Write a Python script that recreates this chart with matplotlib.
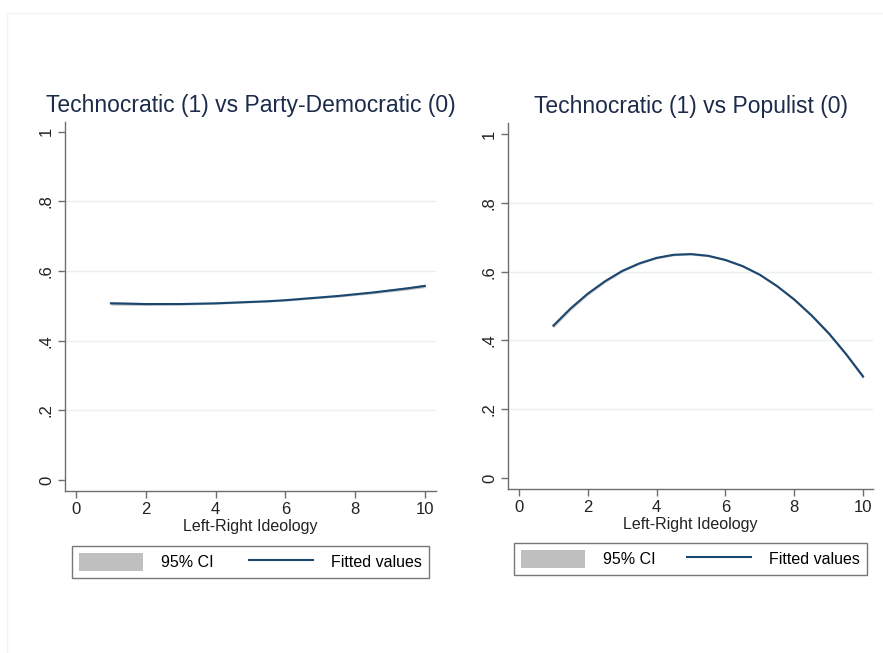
import matplotlib
matplotlib.use("Agg")
from matplotlib import pyplot as plt
from matplotlib.patches import Rectangle
import numpy as np

plt.rcParams["font.family"] = ["Liberation Sans", "DejaVu Sans"]

# Left-right ideology grid where fitted values were evaluated
ideology = [1, 1.5, 2, 2.5, 3, 3.5, 4, 4.5, 5, 5.5,
            6, 6.5, 7, 7.5, 8, 8.5, 9, 9.5, 10]

# Technocratic vs Party-Democratic
fit_pd = [0.507, 0.506, 0.505, 0.505, 0.505, 0.506, 0.507, 0.509, 0.511, 0.513,
          0.516, 0.520, 0.524, 0.528, 0.533, 0.538, 0.544, 0.550, 0.557]
ci_pd = [0.005, 0.0045, 0.004, 0.0035, 0.003, 0.0028, 0.0025, 0.0024, 0.0023, 0.0023,
         0.0024, 0.0025, 0.0027, 0.003, 0.0033, 0.0036, 0.004, 0.0045, 0.005]

# Technocratic vs Populist
fit_pop = [0.443, 0.493, 0.536, 0.572, 0.602, 0.624, 0.640, 0.649, 0.651, 0.646,
           0.634, 0.616, 0.591, 0.558, 0.519, 0.473, 0.421, 0.361, 0.295]
ci_pop = [0.006, 0.005, 0.0045, 0.004, 0.0035, 0.003, 0.003, 0.0028, 0.0028, 0.0028,
          0.003, 0.003, 0.0033, 0.0036, 0.004, 0.0045, 0.005, 0.0055, 0.006]

titles = ["Technocratic (1) vs Party-Democratic (0)", "Technocratic (1) vs Populist (0)"]
y_ticks = [0, 0.2, 0.4, 0.6, 0.8, 1]
y_labels = ["0", ".2", ".4", ".6", ".8", "1"]
x_ticks = [0, 2, 4, 6, 8, 10]

navy = "#1a476f"
title_col = "#1c2b4a"
axis_col = "#6e6e6e"

fig = plt.figure(figsize=(8.83, 6.53), dpi=100)
# faint frame around the whole graph
fig.patches.append(Rectangle((7 / 883, -0.1), 1.1, 1.1 - 13 / 653,
                             transform=fig.transFigure, fill=False,
                             edgecolor="#f3f3f3", linewidth=1))

panels = [
    dict(rect=[0.0736, 0.248, 0.420, 0.565], xlim=(-0.315, 10.315), ylim=(-0.0316, 1.027),
         fit=fit_pd, ci=ci_pd, leg=(0.0815, 0.1164, 0.4043, 0.0475)),
    dict(rect=[0.5753, 0.2511, 0.4134, 0.5605], xlim=(-0.32, 10.29), ylim=(-0.032, 1.032),
         fit=fit_pop, ci=ci_pop, leg=(0.5821, 0.1194, 0.3998, 0.049)),
]

for title, p in zip(titles, panels):
    ax = fig.add_axes(p["rect"])
    x = np.array(ideology)
    fit = np.array(p["fit"])
    ci = np.array(p["ci"])
    ax.fill_between(x, fit - ci, fit + ci, color="#bfbfbf", linewidth=0,
                    label="95% CI", zorder=2)
    ax.plot(x, fit, color=navy, linewidth=1.5, label="Fitted values", zorder=3)

    ax.set_xlim(*p["xlim"])
    ax.set_ylim(*p["ylim"])
    ax.set_xticks(x_ticks)
    ax.set_yticks(y_ticks)
    ax.set_yticklabels(y_labels, rotation=90, va="center")
    ax.tick_params(axis="both", direction="out", length=5, width=1, color=axis_col,
                   labelsize=12, labelcolor="#222222", pad=3)
    ax.yaxis.grid(True, color="#eaf0f2", linewidth=1)
    gl = ax.get_ygridlines()
    gl[0].set_visible(False)
    gl[-1].set_visible(False)
    ax.set_axisbelow(True)
    for side in ["top", "right"]:
        ax.spines[side].set_visible(False)
    for side in ["left", "bottom"]:
        ax.spines[side].set_color(axis_col)
        ax.spines[side].set_linewidth(1)
    ax.set_xlabel("Left-Right Ideology", fontsize=11.5, color="#222222", labelpad=1)
    ax.set_title(title, fontsize=16.5, color=title_col, pad=7)

    leg = ax.legend(loc="upper left", bbox_to_anchor=p["leg"], bbox_transform=fig.transFigure,
                    mode="expand", ncol=2, fontsize=11.5, frameon=True, fancybox=False,
                    handlelength=4.0, handleheight=1.3, borderaxespad=0, borderpad=0.45,
                    columnspacing=2.5, handletextpad=1.1)
    leg.get_frame().set_edgecolor("#555555")
    leg.get_frame().set_linewidth(1)

fig.savefig("out.png", dpi=100, facecolor="white")
